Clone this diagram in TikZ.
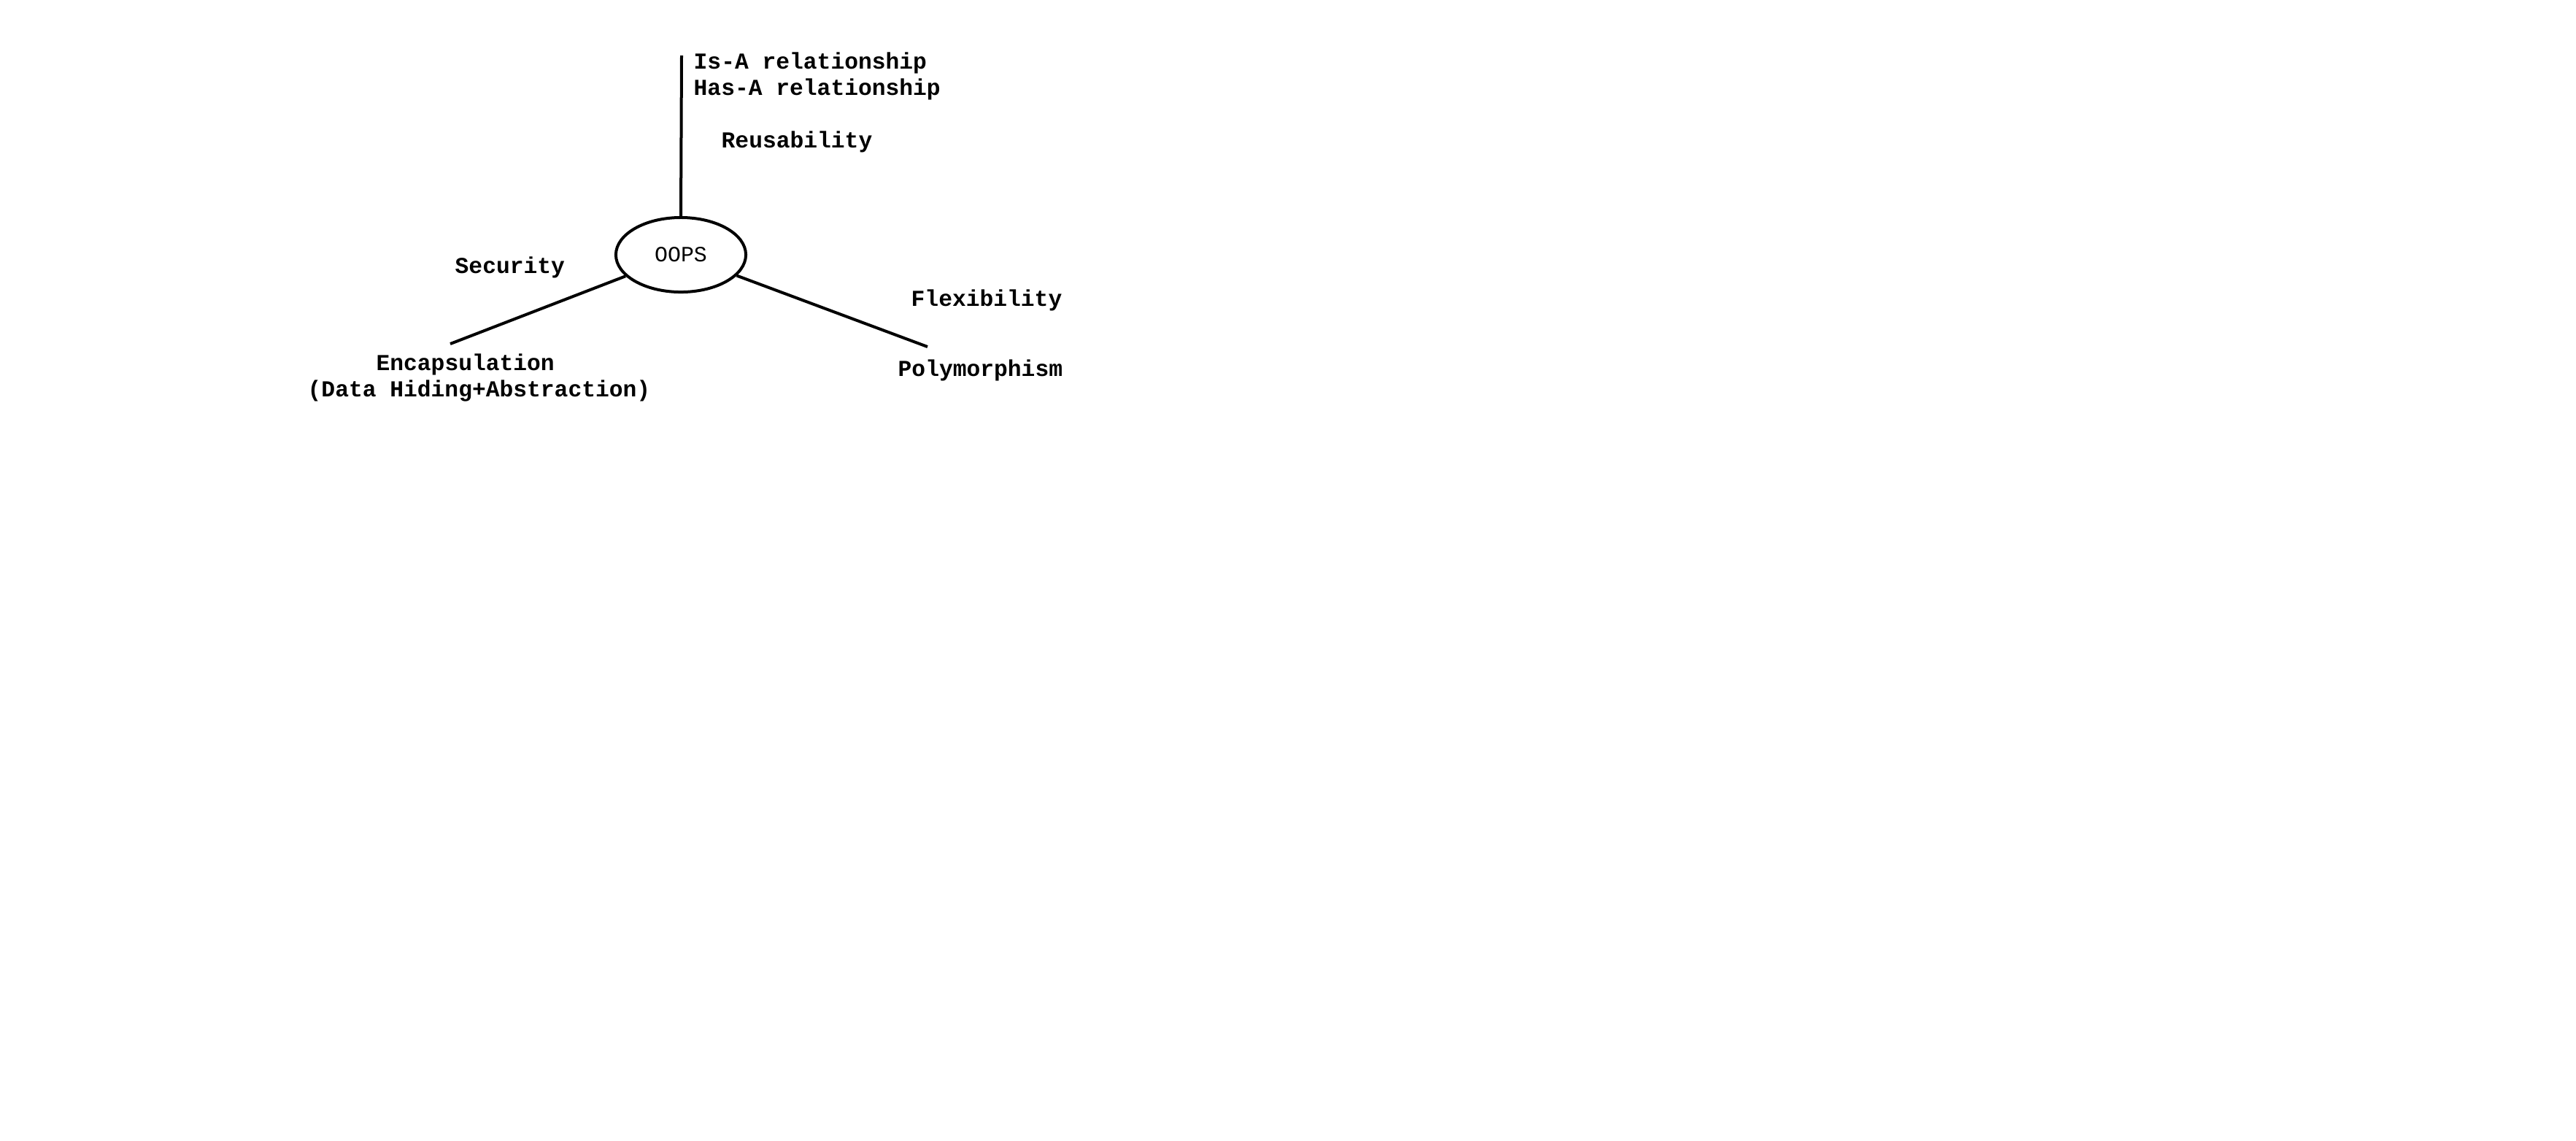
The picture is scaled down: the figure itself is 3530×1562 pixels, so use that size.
\documentclass[tikz,border=0pt]{standalone}
\usepackage{fontspec}
\setmonofont{Liberation Mono}
\usetikzlibrary{shapes.geometric}
\begin{document}
\begin{tikzpicture}[x=0.01cm,y=-0.01cm,
  lbl/.style={anchor=base west,inner sep=0pt,font=\ttfamily\bfseries\fontsize{8.9pt}{10pt}\selectfont},
  conn/.style={line width=0.04cm},
  hub/.style={ellipse,draw,line width=0.04cm,minimum width=1.78cm,minimum height=1.02cm,inner sep=0pt,font=\ttfamily\fontsize{8.5pt}{10pt}\selectfont}]
\useasboundingbox (0,0) rectangle (3530,1562);
\node[hub] (oops) at (933,349) {OOPS};
\coordinate (top) at (934,76);
\coordinate (encend) at (617,471);
\coordinate (polyend) at (1271,475);
\draw[conn] (oops.north) -- (top);
\draw[conn] (oops) -- (encend);
\draw[conn] (oops) -- (polyend);
\node[lbl,align=left] (rel) at (950,130) {Is-A relationship\\Has-A relationship};
\node[lbl] (reuse) at (988,202) {Reusability};
\node[lbl] (sec) at (623,374) {Security};
\node[lbl] (flex) at (1248,419) {Flexibility};
\node[lbl] (poly) at (1230,515) {Polymorphism};
\node[lbl,align=left] (enc) at (421,543) {\phantom{(Data}Encapsulation\\(Data Hiding+Abstraction)};
\end{tikzpicture}
\end{document}
